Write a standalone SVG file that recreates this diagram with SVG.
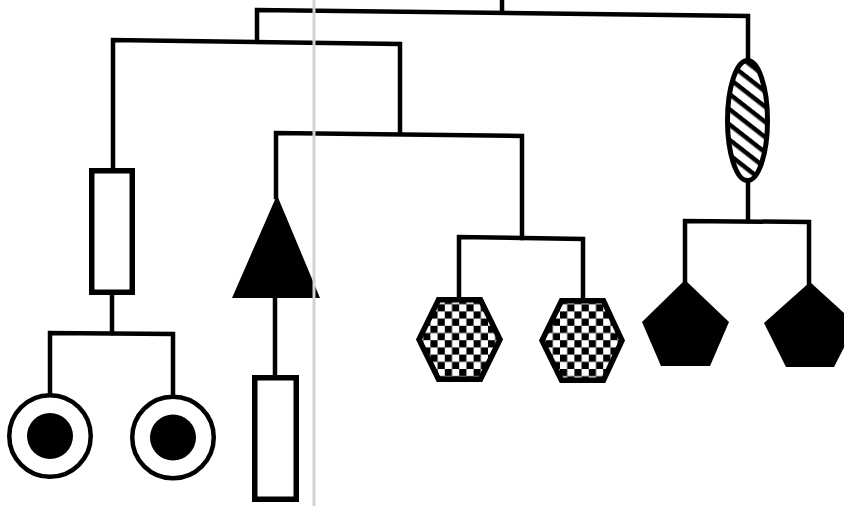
<svg xmlns="http://www.w3.org/2000/svg" width="844" height="506" viewBox="0 0 844 506">
<style>
.ln{fill:none;stroke:#000;stroke-width:4.5;stroke-linejoin:miter;stroke-linecap:square}
.box{fill:#fff;stroke:#000;stroke-width:5.5}
.ring{fill:#fff;stroke:#000;stroke-width:4.5}
.dot{fill:#000}
.solid{fill:#000;stroke:none}
.hex{fill:url(#checker);stroke:#000;stroke-width:5.5;stroke-linejoin:miter}
.oval{fill:url(#hatch);stroke:#000;stroke-width:5}
</style>
<defs>
<pattern id="checker" patternUnits="userSpaceOnUse" width="14.4" height="14.4" x="416" y="297">
<rect width="14.4" height="14.4" fill="#fff"/>
<rect width="7.2" height="7.2" fill="#000"/>
<rect x="7.2" y="7.2" width="7.2" height="7.2" fill="#000"/>
</pattern>
<pattern id="hatch" patternUnits="userSpaceOnUse" width="12" height="12" patternTransform="translate(748 60) rotate(38)">
<rect width="12" height="12" fill="#fff"/>
<rect width="12" height="4.5" fill="#000"/>
</pattern>
</defs>
<rect width="844" height="506" fill="#fff"/>
<g id="connectors">
<polyline class="ln" points="502,0 502,12"/>
<polyline class="ln" points="257,40 257,10 748,16 748,58"/>
<polyline class="ln" points="113,170 113,40 400,44 400,133"/>
<polyline class="ln" points="276,197 276,133 522,136 522,238"/>
<polyline class="ln" points="459,297 459,237 583,239 583,298"/>
<polyline class="ln" points="748,182 748,221"/>
<polyline class="ln" points="685,281 685,221 809,222 809,283"/>
<polyline class="ln" points="112,293 112,333"/>
<polyline class="ln" points="50,395 50,333 173,334 173,396"/>
<polyline class="ln" points="275,297 275,377"/>
</g>
<g id="node-oval"><ellipse class="oval" cx="747.5" cy="120.5" rx="20" ry="60"/></g>
<g id="node-rect-1"><rect class="box" x="91.75" y="170.75" width="40.5" height="121.5"/></g>
<g id="node-circle-1"><circle class="ring" cx="50" cy="436" r="40.75"/><circle class="dot" cx="50" cy="436" r="23"/></g>
<g id="node-circle-2"><circle class="ring" cx="173" cy="437.5" r="40.75"/><circle class="dot" cx="173" cy="437.5" r="23"/></g>
<g id="node-triangle"><polygon class="solid" points="277,195 320,298 232,298"/></g>
<g id="node-rect-2"><rect class="box" x="254.75" y="377.75" width="41.5" height="121.5"/></g>
<g id="node-hex-1"><polygon class="hex" points="438.5,299.75 480.5,299.75 500,339.5 480.5,379.25 438.5,379.25 419,339.5"/></g>
<g id="node-hex-2"><polygon class="hex" points="561.5,300.75 603.5,300.75 622,340.5 603.5,380.25 561.5,380.25 542,340.5"/></g>
<g id="node-pentagon-1"><polygon class="solid" points="685,280 729,322 710,366 661,366 642,322"/></g>
<g id="node-pentagon-2"><polygon class="solid" points="810,282 856,324 834,367 786,367 764,323"/></g>
<line x1="314" y1="0" x2="314" y2="506" stroke="#d2d2d2" stroke-width="3"/>
</svg>
